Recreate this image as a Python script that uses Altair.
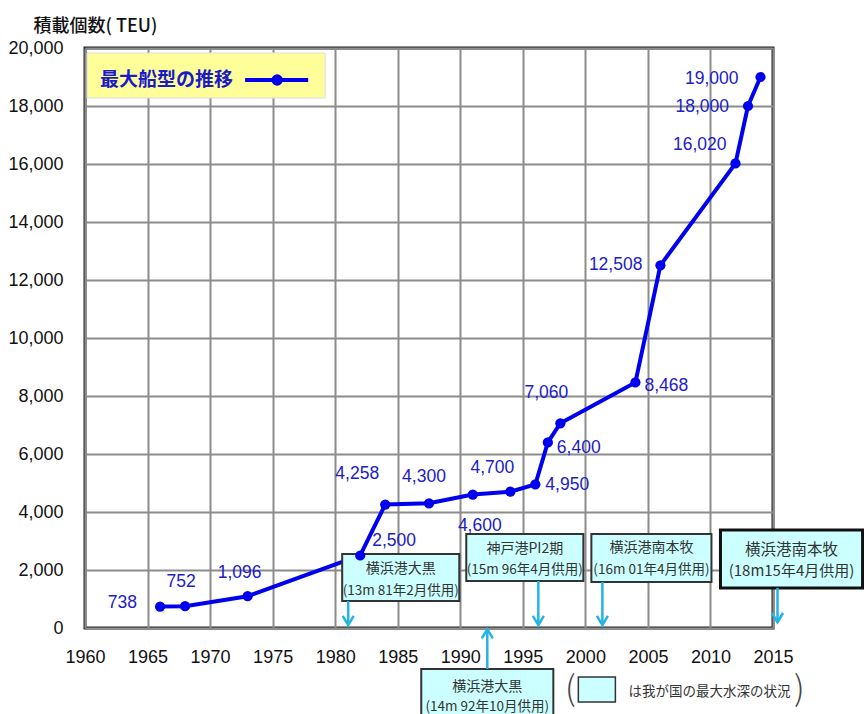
import altair as alt
import pandas as pd

# ---- main series ----
years = [1966, 1968, 1973, 1982, 1984, 1987.5, 1991, 1994, 1996, 1997, 1998, 2004, 2006, 2012, 2013, 2014]
teu = [738, 752, 1096, 2500, 4258, 4300, 4600, 4700, 4950, 6400, 7060, 8468, 12508, 16020, 18000, 19000]
labels = ["738", "752", "1,096", "2,500", "4,258", "4,300", "4,600", "4,700", "4,950",
          "6,400", "7,060", "8,468", "12,508", "16,020", "18,000", "19,000"]

# ---- axis ticks ----
x_ticks = [1960, 1965, 1970, 1975, 1980, 1985, 1990, 1995, 2000, 2005, 2010, 2015]
y_ticks = [0, 2000, 4000, 6000, 8000, 10000, 12000, 14000, 16000, 18000, 20000]

# ---- port depth annotations ----
box_line1 = ["横浜港大黒", "神戸港PI2期", "横浜港南本牧", "横浜港南本牧", "横浜港大黒"]
box_line2 = ["(13m 81年2月供用)", "(15m 96年4月供用)", "(16m 01年4月供用)", "(18m15年4月供用)", "(14m 92年10月供用)"]
box_x1 = [1980.56, 1990.48, 2000.48, 2010.8, 1986.88]
box_x2 = [1989.92, 1999.84, 2010.08, 2022.16, 1997.44]
box_top = [2552, 3241, 3241, 3379, -1414]
box_bottom = [931, 1621, 1586, 1379, -3600]
box_line1_y = [2034, 2724, 2759, 2690, -2034]
box_line2_y = [1276, 2000, 2000, 1970, -2724]
arrow_x = [1981.04, 1996.24, 2001.36, 2015.36, 1992.16]
arrow_tip = [100, 100, 100, 200, -40]

legend_title = "最大船型の推移"
note_text = "は我が国の最大水深の状況"
y_title = "積載個数( TEU)"

LAT = "Liberation Sans"
CJK = "Noto Sans CJK JP"
BLUE = "#0000ee"
LBLUE = "#2020c8"
CYAN_FILL = "#ccffff"
ARROW = "#22b4e6"

xscale = alt.Scale(domain=[1960, 2015], nice=False, zero=False)
yscale = alt.Scale(domain=[0, 20000], nice=False)
xaxis = alt.Axis(values=x_ticks, format="d", title=None, grid=True, gridColor="#8c8c8c",
                 gridWidth=2, ticks=False, domain=False, labelFont=LAT, labelFontSize=18,
                 labelColor="#111", labelPadding=20, labelFlush=False, labelOverlap=False)
yaxis = alt.Axis(values=y_ticks, format=",d", title=y_title, titleAngle=0, titleAlign="left",
                 titleX=-52, titleY=-22, titleBaseline="middle", titleFont=CJK, titleFontSize=18,
                 titleFontWeight=500, titleColor="#111", grid=True, gridColor="#8c8c8c",
                 gridWidth=2, ticks=False, domain=False, labelFont=LAT, labelFontSize=18,
                 labelColor="#111", labelPadding=22, labelFlush=False, labelOverlap=False)

X = alt.X("x:Q", scale=xscale, axis=xaxis)
Y = alt.Y("y:Q", scale=yscale, axis=yaxis)

df = pd.DataFrame({"x": years, "y": teu, "label": labels})

line = alt.Chart(df).mark_line(color=BLUE, strokeWidth=4).encode(x=X, y=Y)
points = alt.Chart(df).mark_circle(color=BLUE, size=105, opacity=1).encode(x=X, y=Y)

# label placement (align, dx, dy) per point
placement = [("right", -23, -4), ("center", -4, -24), ("center", -8, -23), ("left", 12, -15),
             ("center", -28, -31), ("center", -5, -26), ("center", 7, 31), ("center", -18, -24),
             ("left", 10, 1), ("left", 9, 6), ("center", -14, -30), ("left", 9, 4),
             ("right", -18, 0), ("right", -9, -18), ("right", -19, 1), ("right", -22, 2)]
label_layers = []
for i, (al, dx, dy) in enumerate(placement):
    label_layers.append(
        alt.Chart(df.iloc[[i]]).mark_text(align=al, baseline="middle", dx=dx, dy=dy,
                                          font=LAT, fontSize=17.5, color=LBLUE)
        .encode(x=X, y=Y, text="label:N")
    )

# annotation boxes
bdf = pd.DataFrame({"x": box_x1, "x2": box_x2, "y": box_top, "y2": box_bottom,
                    "l1": box_line1, "l2": box_line2, "y1t": box_line1_y, "y2t": box_line2_y})
bdf["xc"] = (bdf["x"] + bdf["x2"]) / 2
small = bdf.iloc[[0, 1, 2, 4]]
big = bdf.iloc[[3]]
boxes_small = alt.Chart(small).mark_rect(fill=CYAN_FILL, stroke="#333", strokeWidth=2).encode(
    x=X, x2="x2:Q", y=Y, y2="y2:Q")
boxes_big = alt.Chart(big).mark_rect(fill=CYAN_FILL, stroke="#111", strokeWidth=3).encode(
    x=X, x2="x2:Q", y=Y, y2="y2:Q")


def box_text(data, field, yfield, size):
    return alt.Chart(data).transform_calculate(x="datum.xc", y="datum." + yfield).mark_text(
        align="center", baseline="middle", font=CJK, fontSize=size, color="#333").encode(
        x=X, y=Y, text=field + ":N")


box_texts = [box_text(small, "l1", "y1t", 14), box_text(small, "l2", "y2t", 13.5),
             box_text(big, "l1", "y1t", 15.5), box_text(big, "l2", "y2t", 15)]

# arrows
adf = pd.DataFrame({"x": arrow_x, "y": box_bottom[:4] + [box_top[4]], "y2": arrow_tip})
arrow_lines = alt.Chart(adf).mark_rule(color=ARROW, strokeWidth=2.5).encode(x=X, y=Y, y2="y2:Q")
down_heads = alt.Chart(adf.iloc[:4]).transform_calculate(y="datum.y2").mark_point(
    shape="M-0.9,-1.5L0,0L0.9,-1.5", size=150, filled=False, color=ARROW, strokeWidth=2.5,
    opacity=1).encode(x=X, y=Y)
up_heads = alt.Chart(adf.iloc[[4]]).transform_calculate(y="datum.y2").mark_point(
    shape="M-0.9,1.5L0,0L0.9,1.5", size=150, filled=False, color=ARROW, strokeWidth=2.5,
    opacity=1).encode(x=X, y=Y)

# legend box (top-left)
leg_box = alt.Chart(pd.DataFrame({"x": [1960.16], "x2": [1979.2], "y": [19828], "y2": [18276]})).mark_rect(
    fill="#ffff99", stroke="#dddddd", strokeWidth=1).encode(x=X, x2="x2:Q", y=Y, y2="y2:Q")
leg_text = alt.Chart(pd.DataFrame({"x": [1961.2], "y": [18897], "t": [legend_title]})).mark_text(
    align="left", baseline="middle", font=CJK, fontSize=19, fontWeight="bold", color="#1a1acc").encode(
    x=X, y=Y, text="t:N")
leg_line = alt.Chart(pd.DataFrame({"x": [1972.8], "x2": [1977.84], "y": [18897]})).mark_rule(
    color=BLUE, strokeWidth=4).encode(x=X, x2="x2:Q", y=Y)
leg_dot = alt.Chart(pd.DataFrame({"x": [1975.36], "y": [18897]})).mark_circle(
    color=BLUE, size=130, opacity=1).encode(x=X, y=Y)

# note at bottom
note_sq = alt.Chart(pd.DataFrame({"x": [1999.44], "x2": [2002.4], "y": [-1690], "y2": [-2552]})).mark_rect(
    fill=CYAN_FILL, stroke="#333", strokeWidth=1.5).encode(x=X, x2="x2:Q", y=Y, y2="y2:Q")
note_txt = alt.Chart(pd.DataFrame({"x": [2003.44], "y": [-2207], "t": [note_text]})).mark_text(
    align="left", baseline="middle", font=CJK, fontSize=13.5, color="#333").encode(x=X, y=Y, text="t:N")
brackets = alt.Chart(pd.DataFrame({"x": [1998.8, 2017.1], "y": [-2150, -2150], "t": ["(", ")"]})).mark_text(
    align="center", baseline="middle", font=CJK, fontWeight=200, fontSize=34, color="#444").encode(
    x=X, y=Y, text="t:N")

chart = alt.layer(
    line, boxes_small, boxes_big, *box_texts, arrow_lines, down_heads, up_heads,
    points, *label_layers, leg_box, leg_text, leg_line, leg_dot, note_sq, note_txt, brackets
).properties(
    width=688, height=580,
    autosize=alt.AutoSizeParams(type="none"),
    padding={"left": 85, "top": 48, "right": 91, "bottom": 86},
    background="white",
).configure_view(stroke="#222", strokeWidth=3)

chart.save("out.html", embed_options={"renderer": "svg", "actions": False})
